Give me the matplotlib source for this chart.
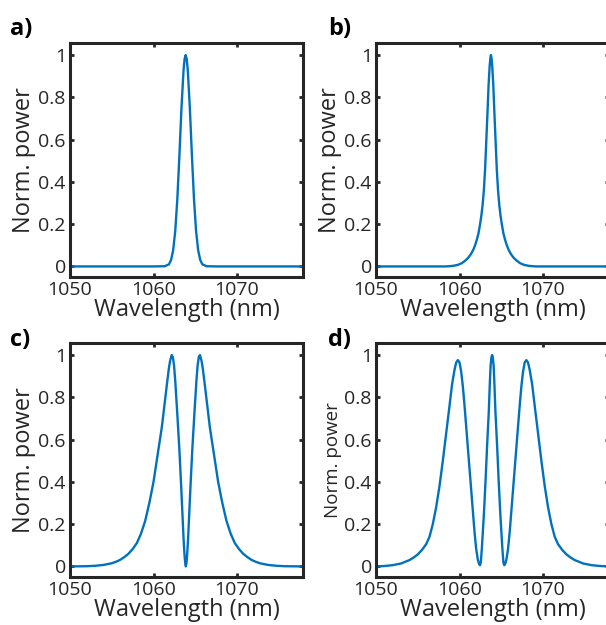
"""
Normalised spectra, four panels a) - d)
"""
import matplotlib
matplotlib.use('Agg')
import matplotlib.pyplot as plt

plt.rcParams['font.family'] = ['Open Sans', 'DejaVu Sans']

# ---- data ----
x_ticks = [1050, 1060, 1070]
y_ticks = [0, 0.2, 0.4, 0.6, 0.8, 1]
y_tick_labels = ['0', '0.2', '0.4', '0.6', '0.8', '1']

# a) single gaussian-like peak
wl_a = [1050, 1060, 1061.35, 1061.85, 1062.1, 1062.35, 1062.6, 1062.85, 1063.1, 1063.35, 1063.6, 1063.725,
        1063.85, 1063.975, 1064.1, 1064.35, 1064.6, 1064.85, 1065.1, 1065.35, 1065.6, 1065.85, 1066.35,
        1067.5, 1078]
p_a = [0, 0, 0.001, 0.01, 0.03, 0.076, 0.166, 0.317, 0.524, 0.751, 0.931, 0.982,
       1.0, 0.982, 0.931, 0.751, 0.524, 0.317, 0.166, 0.076, 0.03, 0.01, 0.001,
       0, 0]

# b) sharp peak with wide tails
wl_b = [1050, 1058.26, 1058.76, 1059.26, 1059.76, 1060.26, 1060.76, 1061.06, 1061.36, 1061.66, 1061.86,
        1062.06, 1062.26, 1062.46, 1062.61, 1062.76, 1062.91, 1063.06, 1063.21, 1063.36, 1063.48, 1063.61,
        1063.69, 1063.76, 1063.83, 1063.91, 1064.04, 1064.16, 1064.31, 1064.46, 1064.61, 1064.76, 1064.91,
        1065.06, 1065.26, 1065.46, 1065.66, 1065.86, 1066.16, 1066.46, 1066.76, 1067.26, 1067.76, 1068.26,
        1068.76, 1069.26, 1078]
p_b = [0, 0, 0.001, 0.003, 0.007, 0.015, 0.03, 0.042, 0.058, 0.08, 0.1,
       0.125, 0.155, 0.2, 0.24, 0.29, 0.36, 0.46, 0.6, 0.74, 0.86, 0.95,
       0.985, 1.0, 0.985, 0.95, 0.86, 0.74, 0.6, 0.46, 0.36, 0.29, 0.24,
       0.2, 0.155, 0.125, 0.1, 0.08, 0.058, 0.042, 0.03, 0.015, 0.007, 0.003,
       0.001, 0, 0]

# c) two peaks
wl_c = [1050, 1052, 1053, 1054, 1055, 1055.5, 1056, 1056.5, 1057, 1057.5, 1058, 1058.5, 1059, 1059.5,
        1060, 1060.5, 1061, 1061.3, 1061.6, 1061.85, 1062.0, 1062.18, 1062.32, 1062.46, 1062.6, 1062.85,
        1063.1, 1063.3, 1063.45, 1063.6, 1063.72, 1063.8, 1063.87, 1063.94, 1064.02, 1064.14, 1064.29,
        1064.44, 1064.64, 1064.89, 1065.14, 1065.28, 1065.42, 1065.56, 1065.74, 1065.89, 1066.14, 1066.44,
        1066.74, 1067.24, 1067.74, 1068.24, 1068.74, 1069.24, 1069.74, 1070.24, 1070.74, 1071.24, 1071.74,
        1072.24, 1072.74, 1073.74, 1074.74, 1075.74, 1078]
p_c = [0, 0.001, 0.003, 0.007, 0.015, 0.022, 0.031, 0.044, 0.06, 0.082, 0.11, 0.155, 0.215, 0.3,
       0.4, 0.53, 0.66, 0.76, 0.86, 0.94, 0.975, 1.0, 0.99, 0.95, 0.88, 0.72,
       0.55, 0.39, 0.26, 0.13, 0.05, 0.015, 0.0, 0.015, 0.05, 0.13, 0.26,
       0.39, 0.55, 0.72, 0.88, 0.95, 0.99, 1.0, 0.975, 0.94, 0.86, 0.76,
       0.66, 0.53, 0.4, 0.3, 0.215, 0.155, 0.11, 0.082, 0.06, 0.044, 0.031,
       0.022, 0.015, 0.007, 0.003, 0.001, 0]

# d) three peaks
wl_d = [1050, 1051, 1052, 1053, 1054, 1054.5, 1055, 1055.5, 1056, 1056.4, 1056.8, 1057.2, 1057.6, 1058,
        1058.4, 1058.8, 1059.1, 1059.4, 1059.6, 1059.8, 1060.0, 1060.2, 1060.4, 1060.6, 1060.8, 1061.0,
        1061.3, 1061.6, 1061.8, 1062.0, 1062.2, 1062.35, 1062.45, 1062.55, 1062.68, 1062.92, 1063.12,
        1063.3, 1063.5, 1063.63, 1063.72, 1063.82, 1063.9, 1063.98, 1064.08, 1064.17, 1064.3, 1064.5,
        1064.68, 1064.88, 1065.12, 1065.25, 1065.35, 1065.45, 1065.6, 1065.8, 1066.0, 1066.2, 1066.5,
        1066.8, 1067.0, 1067.2, 1067.4, 1067.6, 1067.8, 1068.0, 1068.2, 1068.4, 1068.7, 1069.0, 1069.4,
        1069.8, 1070.2, 1070.6, 1071.0, 1071.4, 1071.8, 1072.3, 1072.8, 1073.3, 1073.8, 1074.8, 1075.8,
        1076.8, 1078]
p_d = [0, 0.002, 0.006, 0.014, 0.03, 0.042, 0.057, 0.078, 0.105, 0.14, 0.2, 0.28, 0.38, 0.5,
       0.63, 0.76, 0.86, 0.93, 0.965, 0.976, 0.965, 0.92, 0.85, 0.76, 0.66, 0.56,
       0.41, 0.26, 0.16, 0.08, 0.03, 0.01, 0.006, 0.02, 0.09, 0.25, 0.41,
       0.57, 0.73, 0.87, 0.95, 0.99, 1.0, 0.99, 0.95, 0.87, 0.73, 0.57,
       0.41, 0.25, 0.09, 0.02, 0.006, 0.01, 0.03, 0.08, 0.16, 0.26, 0.41,
       0.56, 0.66, 0.76, 0.85, 0.92, 0.965, 0.976, 0.965, 0.93, 0.86, 0.76, 0.63,
       0.5, 0.38, 0.28, 0.2, 0.14, 0.105, 0.078, 0.057, 0.042, 0.03, 0.014, 0.006,
       0.002, 0]

panels = [
    ('a)', wl_a, p_a, [0.1155, 0.5568, 0.3845, 0.3744], (0.0165, 0.944), 17),
    ('b)', wl_b, p_b, [0.6205, 0.5568, 0.3845, 0.3744], (0.541, 0.944), 17),
    ('c)', wl_c, p_c, [0.1155, 0.0768, 0.3845, 0.3744], (0.0165, 0.4464), 17),
    ('d)', wl_d, p_d, [0.6205, 0.0768, 0.3845, 0.3744], (0.541, 0.4464), 13.5),
]

line_color = '#0072BD'
axis_color = '#262626'

fig = plt.figure(figsize=(6.06, 6.25), dpi=100)

for letter, wl, pw, pos, lpos, ylab_size in panels:
    ax = fig.add_axes(pos)
    ax.plot(wl, pw, color=line_color, linewidth=1.7, solid_joinstyle='round')
    ax.set_xlim(1050, 1077.9)
    ax.set_ylim(-0.05, 1.057)
    ax.set_xticks(x_ticks)
    ax.set_yticks(y_ticks)
    ax.set_yticklabels(y_tick_labels)
    ax.tick_params(direction='in', length=3, width=2, colors=axis_color,
                   labelsize=14, top=True, right=True, pad=3)
    for s in ax.spines.values():
        s.set_linewidth(2.2)
        s.set_color(axis_color)
    ax.set_xlabel('Wavelength (nm)', fontsize=17, color=axis_color, labelpad=-0.5)
    ax.set_ylabel('Norm. power', fontsize=ylab_size, color=axis_color, labelpad=2)
    fig.text(lpos[0], lpos[1], letter, fontsize=17, fontweight='bold', color='black', va='baseline')

plt.savefig('out.png', dpi=100)
